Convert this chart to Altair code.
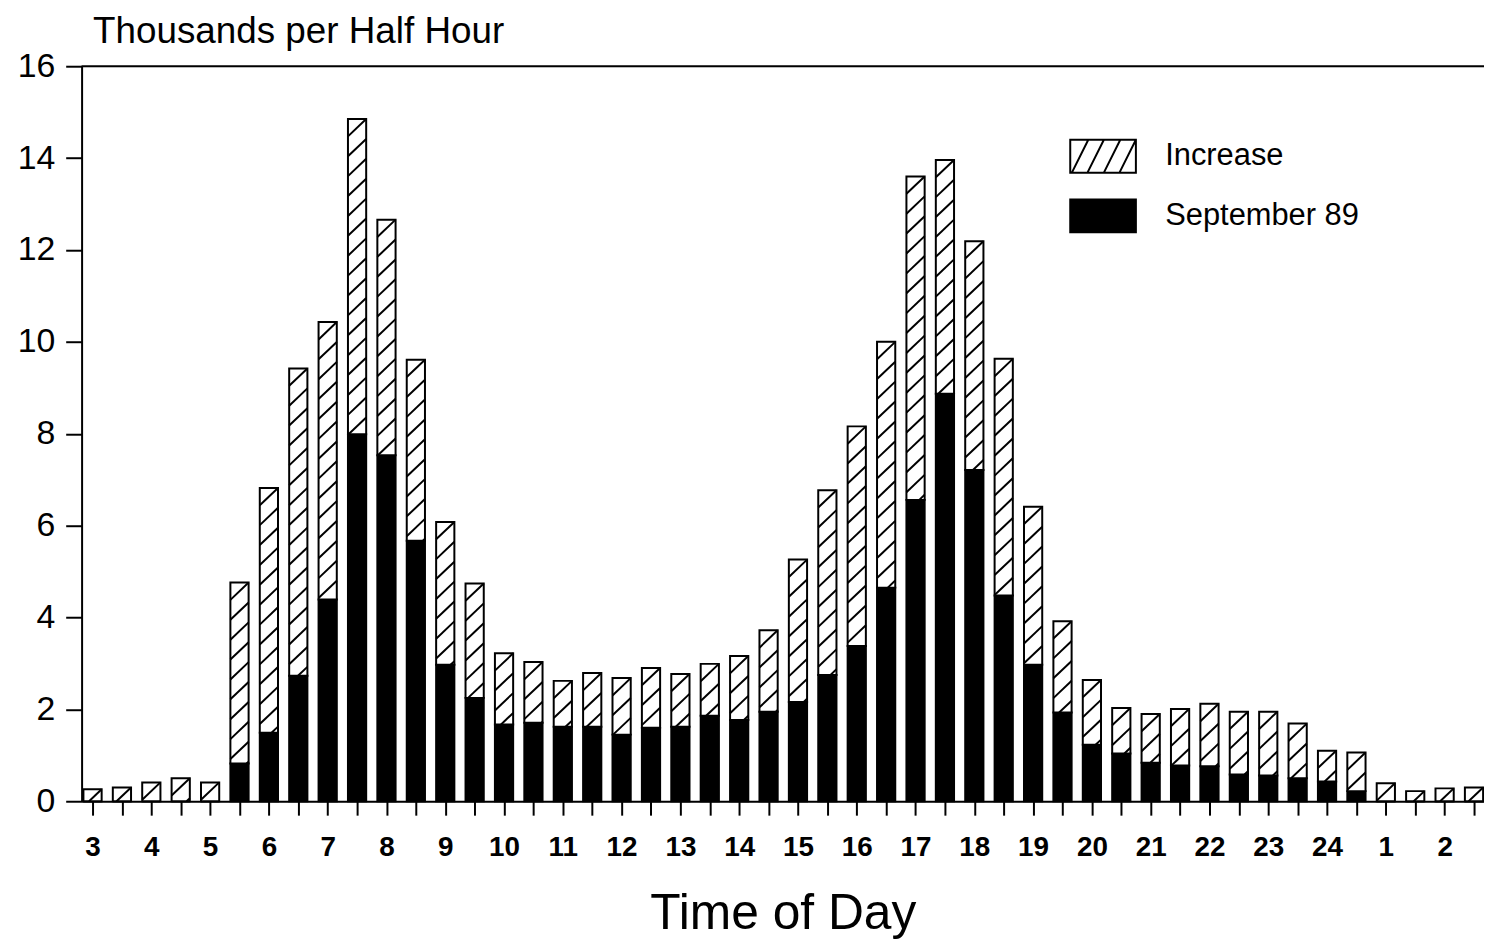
import altair as alt
import pandas as pd

# ---------------- data (thousands per half hour) ----------------
hour_labels = ['3', '4', '5', '6', '7', '8', '9', '10', '11', '12', '13', '14',
               '15', '16', '17', '18', '19', '20', '21', '22', '23', '24', '1', '2']

september_89 = [0, 0, 0, 0, 0, 0.82, 1.49, 2.73, 4.39, 7.99, 7.53, 5.67,
                2.97, 2.25, 1.67, 1.71, 1.62, 1.62, 1.45, 1.60, 1.62, 1.86, 1.77, 1.95,
                2.16, 2.75, 3.38, 4.65, 6.56, 8.87, 7.21, 4.48, 2.97, 1.93, 1.23, 1.04,
                0.84, 0.78, 0.76, 0.58, 0.56, 0.50, 0.43, 0.22, 0, 0, 0, 0]

increase = [0.26, 0.30, 0.41, 0.50, 0.41, 3.94, 5.33, 6.69, 6.04, 6.86, 5.13, 3.94,
            3.11, 2.49, 1.55, 1.32, 1.00, 1.17, 1.23, 1.30, 1.15, 1.13, 1.39, 1.77,
            3.10, 4.02, 4.78, 5.35, 7.04, 5.09, 4.98, 5.15, 3.44, 1.99, 1.41, 0.99,
            1.06, 1.23, 1.36, 1.37, 1.39, 1.19, 0.67, 0.84, 0.39, 0.22, 0.28, 0.30]

series_names = ['Increase', 'September 89']
y_ticks = [0, 2, 4, 6, 8, 10, 12, 14, 16]

# ---------------- layout constants ----------------
X_MIN, X_MAX = -0.372, 47.34
Y_MAX = 16
PLOT_W, PLOT_H = 1410, 739
BAR_HALF = 0.31
FONT = 'Liberation Sans'

# ---------------- tables built from the arrays ----------------
rows = []
for i, (s, inc) in enumerate(zip(september_89, increase)):
    rows.append(dict(idx=i, series='September 89', y0=0.0, y1=s))
    rows.append(dict(idx=i, series='Increase', y0=s, y1=s + inc))
bars_df = pd.DataFrame(rows)

# diagonal hatch lines inside each "Increase" segment
sx = PLOT_W / (X_MAX - X_MIN)
sy = PLOT_H / Y_MAX
W = 2 * BAR_HALF * sx
R = 0.95 * W
P = 20.0
hatch = []
for i, (s, inc) in enumerate(zip(september_89, increase)):
    H = inc * sy
    a = H - R
    while a + R > 0.5:
        xl = max(0.0, -a * W / R)
        xr = min(W, (H - a) * W / R)
        if xr - xl > 1:
            hatch.append(dict(hx0=i - BAR_HALF + xl / sx,
                              hx1=i - BAR_HALF + xr / sx,
                              hy0=s + (a + R * xl / W) / sy,
                              hy1=s + (a + R * xr / W) / sy))
        a -= P
hatch_df = pd.DataFrame(hatch)
top_df = pd.DataFrame({'ytop': [Y_MAX]})

labels48 = [hour_labels[i // 2] if i % 2 == 0 else '' for i in range(48)]
label_expr = '[' + ','.join("'%s'" % l for l in labels48) + '][round(datum.value)]'

x_scale = alt.Scale(domain=[X_MIN, X_MAX], nice=False, zero=False)
y_scale = alt.Scale(domain=[0, Y_MAX], nice=False, zero=True)

x_axis = alt.Axis(
    values=list(range(48)), labelExpr=label_expr, labelOverlap=False, labelFlush=False,
    grid=False, domainColor='black', domainWidth=2, tickColor='black', tickWidth=2,
    tickSize=14, labelFontSize=28, labelFontWeight='bold', labelColor='black',
    labelPadding=19, labelFont=FONT,
    title='Time of Day', titleFontSize=50, titleFontWeight='normal', titleColor='black',
    titleBaseline='alphabetic', titleY=128, titleFont=FONT)

y_axis = alt.Axis(
    values=y_ticks, grid=False, domainColor='black', domainWidth=2, tickColor='black',
    tickWidth=2, tickSize=16, labelFontSize=34, labelColor='black', labelPadding=11,
    labelFont=FONT,
    title='Thousands per Half Hour', titleAngle=0, titleAlign='left',
    titleBaseline='alphabetic', titleX=11, titleY=-24, titleFontSize=37,
    titleFontWeight='normal', titleColor='black', titleFont=FONT)

hatch_symbol = ('M-2,-1H2V1H-2Z M-1.9,1L-0.9,-1 M-0.95,1L0.05,-1 '
                'M0.05,1L1.05,-1 M1,1L2,-1')

bars = alt.Chart(bars_df).transform_calculate(
    xl='datum.idx - %f' % BAR_HALF,
    xr='datum.idx + %f' % BAR_HALF,
).mark_bar(stroke='black', strokeWidth=2).encode(
    x=alt.X('xl:Q', scale=x_scale, axis=x_axis),
    x2='xr:Q',
    y=alt.Y('y1:Q', scale=y_scale, axis=y_axis),
    y2='y0:Q',
    fill=alt.Fill('series:N',
                  scale=alt.Scale(domain=series_names, range=['white', 'black']),
                  legend=alt.Legend(
                      title=None, orient='none', legendX=993, legendY=73,
                      symbolType=hatch_symbol, symbolSize=1089,
                      symbolStrokeColor='black', symbolStrokeWidth=2,
                      symbolOffset=16.5, labelOffset=45, labelFontSize=31,
                      labelLimit=400, labelFont=FONT, labelColor='black',
                      rowPadding=19, padding=0)),
)

hatch_lines = alt.Chart(hatch_df).mark_rule(color='black', strokeWidth=2).encode(
    x=alt.X('hx0:Q', scale=x_scale, axis=x_axis),
    x2='hx1:Q',
    y=alt.Y('hy0:Q', scale=y_scale, axis=y_axis),
    y2='hy1:Q',
)

top_line = alt.Chart(top_df).mark_rule(color='black', strokeWidth=2).encode(
    y=alt.Y('ytop:Q', scale=y_scale, axis=y_axis),
)

chart = alt.layer(bars, hatch_lines, top_line).properties(
    width=PLOT_W, height=PLOT_H,
    autosize=alt.AutoSizeParams(type='none'),
    padding={'left': 74, 'top': 56, 'right': 0, 'bottom': 140},
    background='white',
).configure_view(stroke=None).configure(font=FONT)

chart.save("out.html", embed_options={"renderer": "svg", "actions": False})
